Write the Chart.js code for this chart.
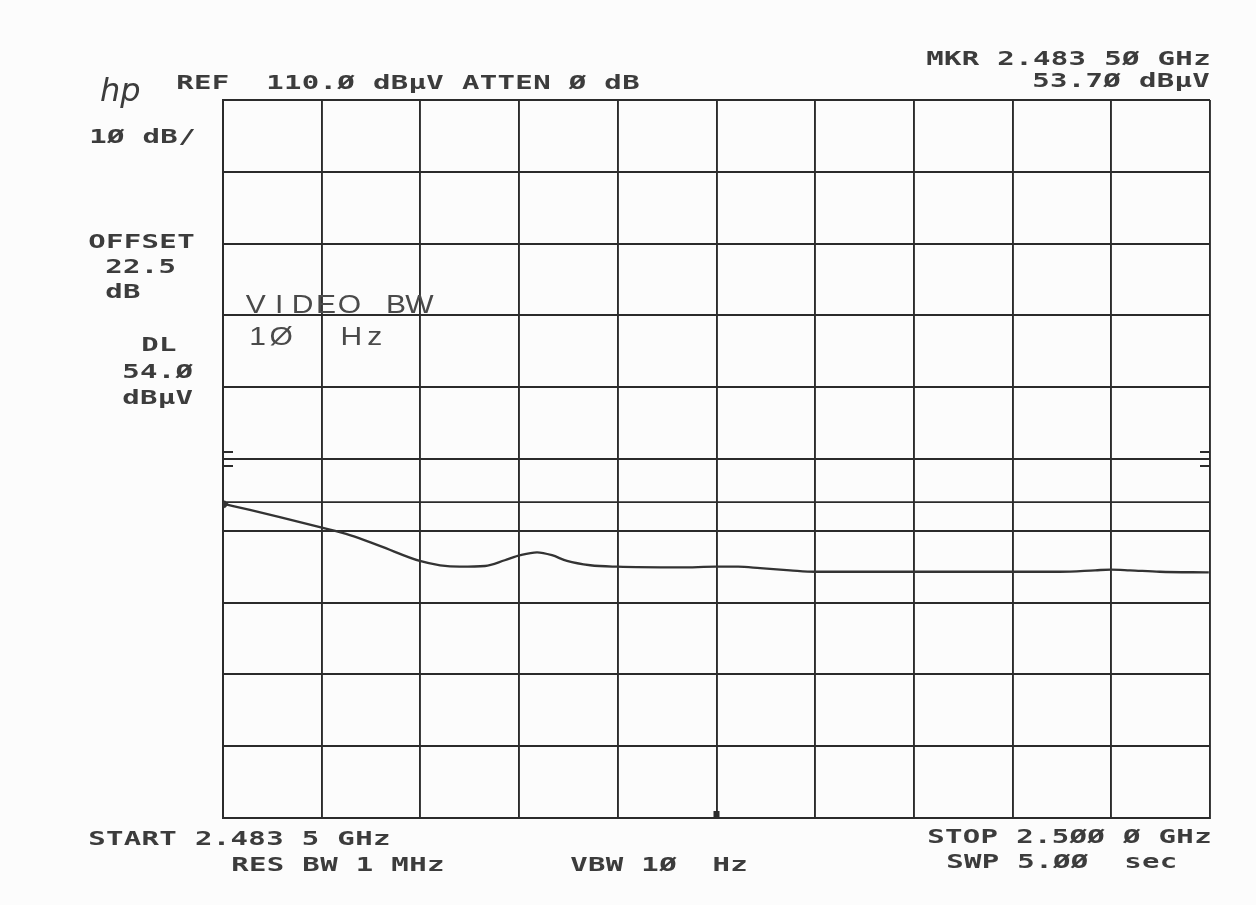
<!DOCTYPE html>
<html>
<head>
<meta charset="utf-8">
<script src="https://cdn.jsdelivr.net/npm/chart.js@4/dist/chart.umd.min.js"></script>
<style>
  html, body { margin: 0; background: #fcfcfc; }
  canvas { display: block; }
</style>
</head>
<body>
<canvas id="chart" width="1256" height="905"></canvas>
<script>
// sweep: frequency (MHz) and level (dBuV)
const freqMHz = [2483.53, 2483.95, 2484.45, 2485.17, 2485.62, 2486.12, 2486.79, 2487.13, 2487.46, 2487.88,
    2488.21, 2488.47, 2488.75, 2489.00, 2489.25, 2489.64, 2490.09, 2491.14, 2491.74, 2492.11,
    2492.48, 2492.98, 2493.40, 2494.15, 2495.04, 2495.82, 2496.69, 2497.49, 2498.08, 2498.34,
    2498.66, 2499.16, 2499.98];
const levelDbuv = [53.7, 52.9, 51.9, 50.4, 49.4, 47.9, 45.8, 45.2, 45.0, 45.1,
    45.9, 46.6, 47.0, 46.6, 45.8, 45.2, 45.0, 44.9, 45.0, 45.0,
    44.8, 44.5, 44.3, 44.3, 44.3, 44.3, 44.3, 44.3, 44.5, 44.6,
    44.5, 44.3, 44.2];

// graticule: 10 divisions each way
const xGridMHz = [2483.5, 2485.15, 2486.8, 2488.45, 2490.1, 2491.75, 2493.4, 2495.05, 2496.7, 2498.35, 2500.0];
const yGridDb = [10, 20, 30, 40, 50, 60, 70, 80, 90, 100, 110];

const displayLineDb = 54.0;
const thresholdDb = 60.0;
const centerMHz = 2491.75;

const INK = '#2b2b2b';
const TEXT = '#3c3c3c';

// plotter-style monospaced text, one glyph centred in each cell
function plotText(ctx, str, x, y, opts) {
    const o = Object.assign({ cell: 17.8, size: 20, sx: 1.45, font: 'DejaVu Sans Mono', color: TEXT, weight: 'bold' }, opts || {});
    ctx.save();
    ctx.fillStyle = o.color;
    ctx.font = (o.weight ? o.weight + ' ' : '') + o.size + 'px "' + o.font + '"';
    ctx.textBaseline = 'alphabetic';
    ctx.textAlign = 'center';
    for (let i = 0; i < str.length; i++) {
        const ch = str[i];
        if (ch === ' ') continue;
        ctx.save();
        ctx.translate(x + i * o.cell + o.cell / 2, y);
        ctx.scale(o.sx, 1);
        ctx.fillText(ch, 0, 0);
        ctx.restore();
    }
    ctx.restore();
}

const annotations = {
    id: 'annotations',
    afterDatasetsDraw(chart) {
        const ctx = chart.ctx;
        const xs = chart.scales.x;
        const ys = chart.scales.y;
        const area = chart.chartArea;

        // "=" marks at threshold level, both edges
        const yT = ys.getPixelForValue(thresholdDb);
        ctx.save();
        ctx.strokeStyle = INK;
        ctx.lineWidth = 2;
        ctx.beginPath();
        [-7, 7].forEach(d => {
            ctx.moveTo(area.left, yT + d); ctx.lineTo(area.left + 10, yT + d);
            ctx.moveTo(area.right - 10, yT + d); ctx.lineTo(area.right, yT + d);
        });
        ctx.stroke();

        // center frequency marker on the bottom edge
        const xc = xs.getPixelForValue(centerMHz);
        ctx.fillStyle = INK;
        ctx.fillRect(xc - 3, area.bottom - 7, 6, 7);
        ctx.restore();
    },
    afterDraw(chart) {
        const ctx = chart.ctx;

        // hp logo
        ctx.save();
        ctx.fillStyle = TEXT;
        ctx.font = 'italic 32px "DejaVu Sans"';
        ctx.fillText('hp', 100, 101);
        ctx.restore();

        plotText(ctx, 'REF', 176, 89);
        plotText(ctx, '110.Ø dBµV ATTEN Ø dB', 266, 89);
        plotText(ctx, 'MKR 2.483 5Ø GHz', 926, 65);
        plotText(ctx, '53.7Ø dBµV', 1032, 87);

        plotText(ctx, '1Ø dB/', 89, 143);
        plotText(ctx, 'OFFSET', 88, 248);
        plotText(ctx, '22.5', 105, 273);
        plotText(ctx, 'dB', 105, 298);
        plotText(ctx, 'DL', 141, 351);
        plotText(ctx, '54.Ø', 122, 378);
        plotText(ctx, 'dBµV', 122, 404);

        const penText = { cell: 23.4, size: 25, sx: 1.2, font: 'Liberation Sans', color: '#4a4a4a', weight: '' };
        plotText(ctx, 'VIDEO BW', 244, 313, penText);
        plotText(ctx, '1Ø  Hz', 246, 345, penText);

        plotText(ctx, 'START 2.483 5 GHz', 88, 845);
        plotText(ctx, 'RES BW 1 MHz', 231, 871);
        plotText(ctx, 'VBW 1Ø  Hz', 570, 871);
        plotText(ctx, 'STOP 2.5ØØ Ø GHz', 927, 843);
        plotText(ctx, 'SWP 5.ØØ  sec', 946, 868);
    }
};

const gridStyle = { color: INK, lineWidth: 1.9, drawTicks: false };
const borderStyle = { display: true, color: INK, width: 2 };

new Chart(document.getElementById('chart'), {
    type: 'line',
    data: {
        datasets: [
            {
                label: 'Trace',
                data: freqMHz.map((f, i) => ({ x: f, y: levelDbuv[i] })),
                borderColor: '#333',
                borderWidth: 2.3,
                cubicInterpolationMode: 'monotone',
                pointStyle: 'rectRot',
                pointRadius: ctx => ctx.dataIndex === 0 ? 4 : 0,
                pointBackgroundColor: '#333',
                pointBorderWidth: 0
            },
            {
                label: 'DL',
                data: [{ x: xGridMHz[0], y: displayLineDb }, { x: xGridMHz[xGridMHz.length - 1], y: displayLineDb }],
                borderColor: INK,
                borderWidth: 1.9,
                pointRadius: 0
            }
        ]
    },
    options: {
        responsive: false,
        animation: false,
        devicePixelRatio: 1,
        layout: { padding: { left: 223, top: 100, right: 46, bottom: 87 } },
        plugins: { legend: { display: false }, tooltip: { enabled: false } },
        scales: {
            x: {
                type: 'linear',
                min: xGridMHz[0],
                max: xGridMHz[xGridMHz.length - 1],
                afterBuildTicks: axis => { axis.ticks = xGridMHz.map(v => ({ value: v })); },
                ticks: { display: false },
                grid: gridStyle,
                border: borderStyle
            },
            y: {
                min: yGridDb[0],
                max: yGridDb[yGridDb.length - 1],
                afterBuildTicks: axis => { axis.ticks = yGridDb.map(v => ({ value: v })); },
                ticks: { display: false },
                grid: gridStyle,
                border: borderStyle
            }
        }
    },
    plugins: [annotations]
});
</script>
</body>
</html>
